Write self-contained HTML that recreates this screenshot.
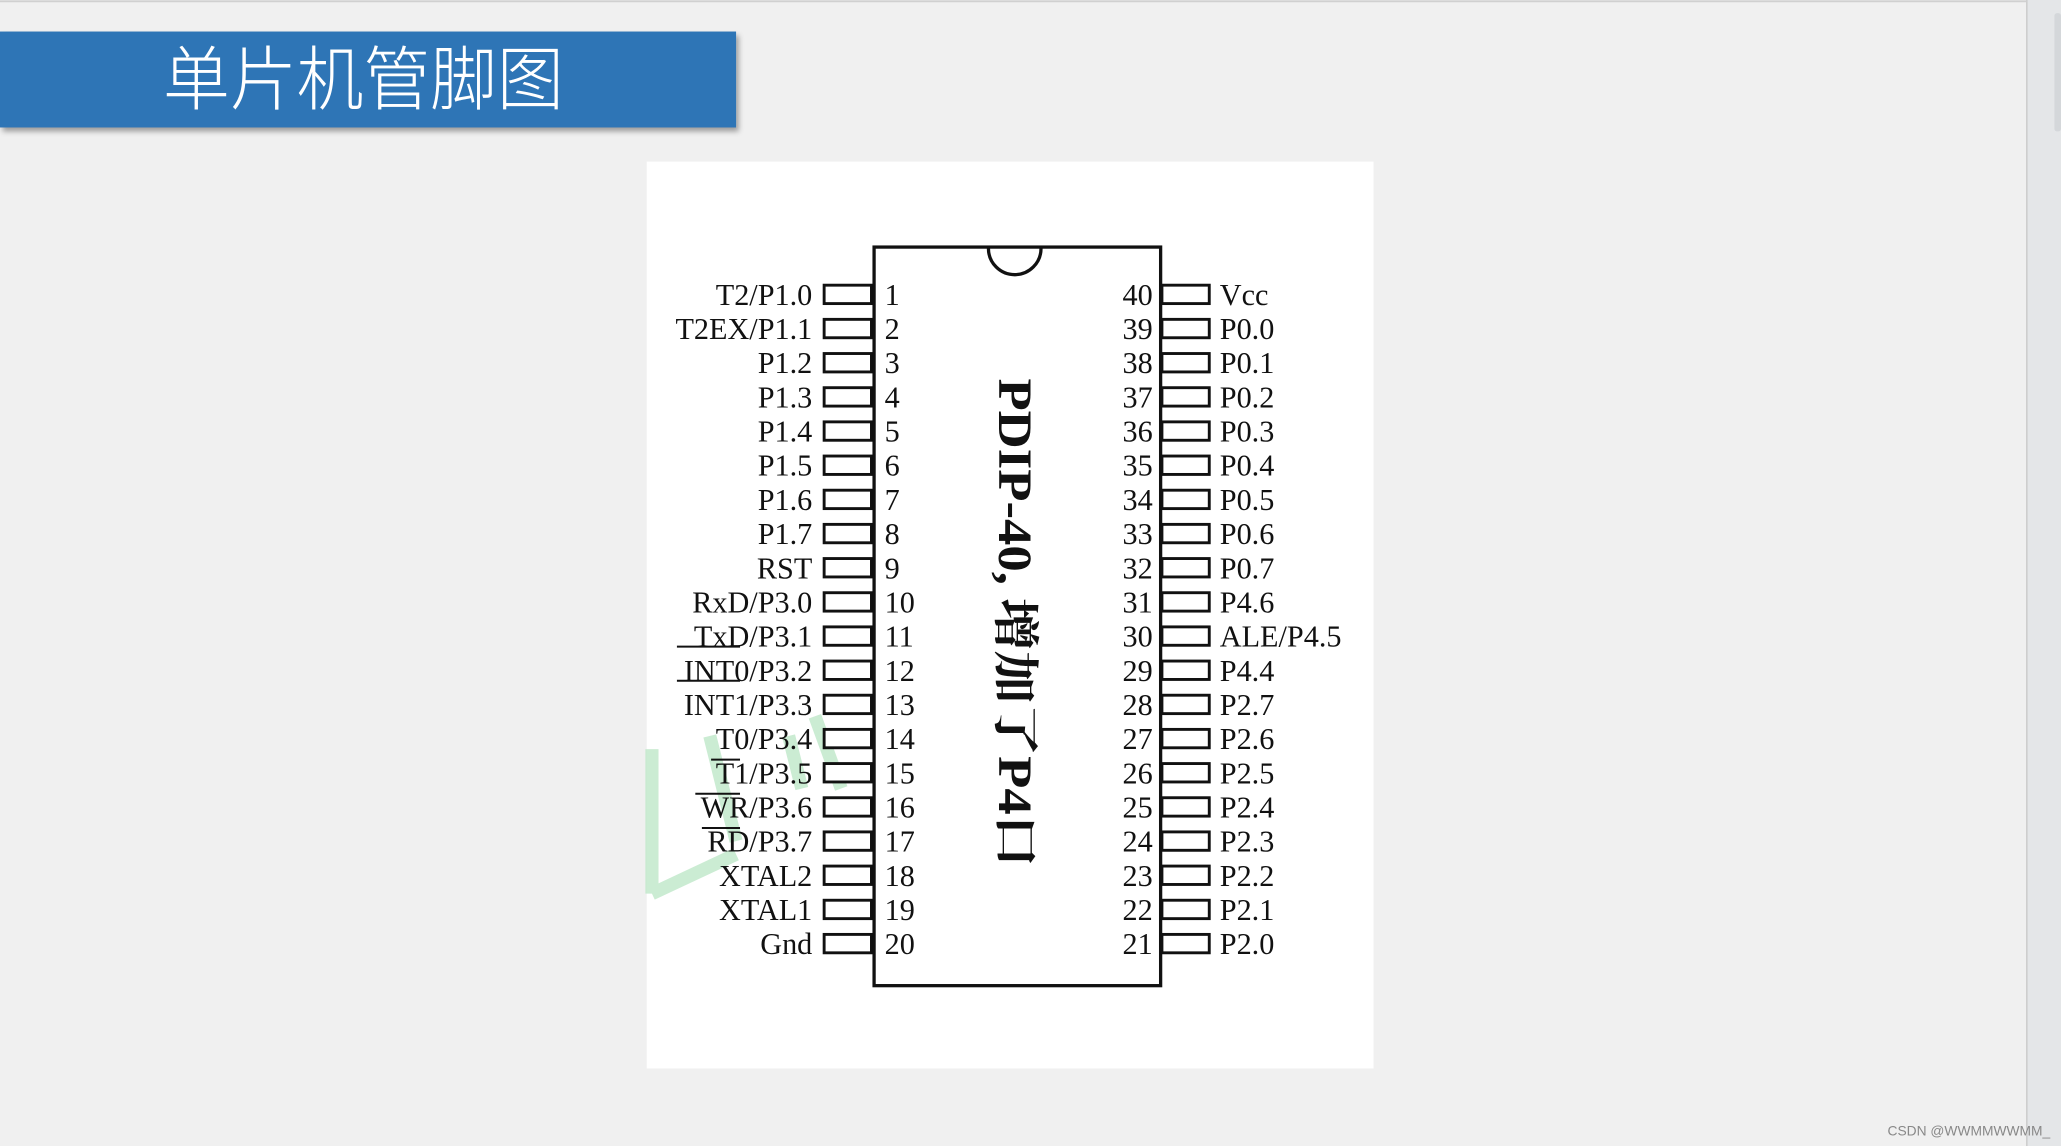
<!DOCTYPE html>
<html><head><meta charset="utf-8"><style>
html,body{margin:0;padding:0;width:2061px;height:1146px;overflow:hidden;background:#f0f0f0}
svg{display:block}
</style></head><body>
<svg width="2061" height="1146" viewBox="0 0 1568 872" preserveAspectRatio="none" xmlns="http://www.w3.org/2000/svg">
<defs><filter id="sh" x="-5%" y="-20%" width="110%" height="150%"><feDropShadow dx="2" dy="3" stdDeviation="2" flood-color="#000" flood-opacity="0.35"/></filter></defs>
<rect x="0" y="0" width="1568" height="872" fill="#f0f0f0"/>
<rect x="1542" y="0" width="26" height="872" fill="#e4e6e8"/>
<line x1="1542" y1="0" x2="1542" y2="872" stroke="#c8c8c8" stroke-width="1"/>
<line x1="0" y1="1" x2="1542" y2="1" stroke="#d0d0d0" stroke-width="1.5"/>
<rect x="1563" y="10" width="5" height="90" rx="2" fill="#d4d7da"/>
<rect x="0" y="24" width="560" height="73" fill="#2e75b6" filter="url(#sh)"/>
<text x="124" y="79" font-family="'Noto Sans CJK SC','WenQuanYi Zen Hei',sans-serif" font-weight="300" font-size="53" fill="#fff" textLength="305" lengthAdjust="spacingAndGlyphs">单片机管脚图</text>
<rect x="492" y="123" width="553" height="690" fill="#fff"/>
<g stroke="#bfe8c9" stroke-width="10" fill="none" opacity="0.8">
<path d="M496 570 L496 680"/><path d="M496 680 L560 650"/><path d="M540 560 L560 640"/><path d="M600 560 L610 600"/><path d="M620 545 L640 600"/>
</g>
<g fill="none" stroke="#111" stroke-width="2.5">
<rect x="665" y="188" width="218" height="562"/>
<path d="M752 189 A20 20 0 0 0 792 189"/>
</g>
<g id="pins" fill="#fff" stroke="#111" stroke-width="2.2"></g>
<g font-family="'Liberation Serif',serif" font-size="23" fill="#111" id="txt"></g>
<text transform="translate(760,288) rotate(90)" font-family="'Liberation Serif','Noto Serif CJK SC',serif" font-weight="bold" font-size="36" fill="#111" textLength="372" lengthAdjust="spacingAndGlyphs">PDIP-40, 增加了P4口</text>
<g stroke="#111" stroke-width="1.5">
<line x1="515" y1="492" x2="563" y2="492"/>
<line x1="515" y1="518" x2="563" y2="518"/>
<line x1="541" y1="578" x2="563" y2="578"/>
<line x1="529" y1="604" x2="563" y2="604"/>
<line x1="534" y1="630" x2="563" y2="630"/>
</g>
<text x="1436" y="864" font-family="'Liberation Sans',sans-serif" font-size="10.5" fill="#888">CSDN @WWMMWWMM_</text>
<script>
var L=["T2/P1.0","T2EX/P1.1","P1.2","P1.3","P1.4","P1.5","P1.6","P1.7","RST","RxD/P3.0","TxD/P3.1","INT0/P3.2","INT1/P3.3","T0/P3.4","T1/P3.5","WR/P3.6","RD/P3.7","XTAL2","XTAL1","Gnd"];
var R=["Vcc","P0.0","P0.1","P0.2","P0.3","P0.4","P0.5","P0.6","P0.7","P4.6","ALE/P4.5","P4.4","P2.7","P2.6","P2.5","P2.4","P2.3","P2.2","P2.1","P2.0"];
var ns="http://www.w3.org/2000/svg",p=document.getElementById("pins"),t=document.getElementById("txt");
function mk(tag,a,txt,par){var e=document.createElementNS(ns,tag);for(var k in a)e.setAttribute(k,a[k]);if(txt)e.textContent=txt;par.appendChild(e);}
for(var i=0;i<20;i++){var y=224+i*26;
mk("rect",{x:627,y:y-7,width:36,height:14},null,p);
mk("rect",{x:884,y:y-7,width:36,height:14},null,p);
mk("text",{x:618,y:y+8,"text-anchor":"end"},L[i],t);
mk("text",{x:673,y:y+8},String(i+1),t);
mk("text",{x:877,y:y+8,"text-anchor":"end"},String(40-i),t);
mk("text",{x:928,y:y+8},R[i],t);}
</script>
</svg>
</body></html>
